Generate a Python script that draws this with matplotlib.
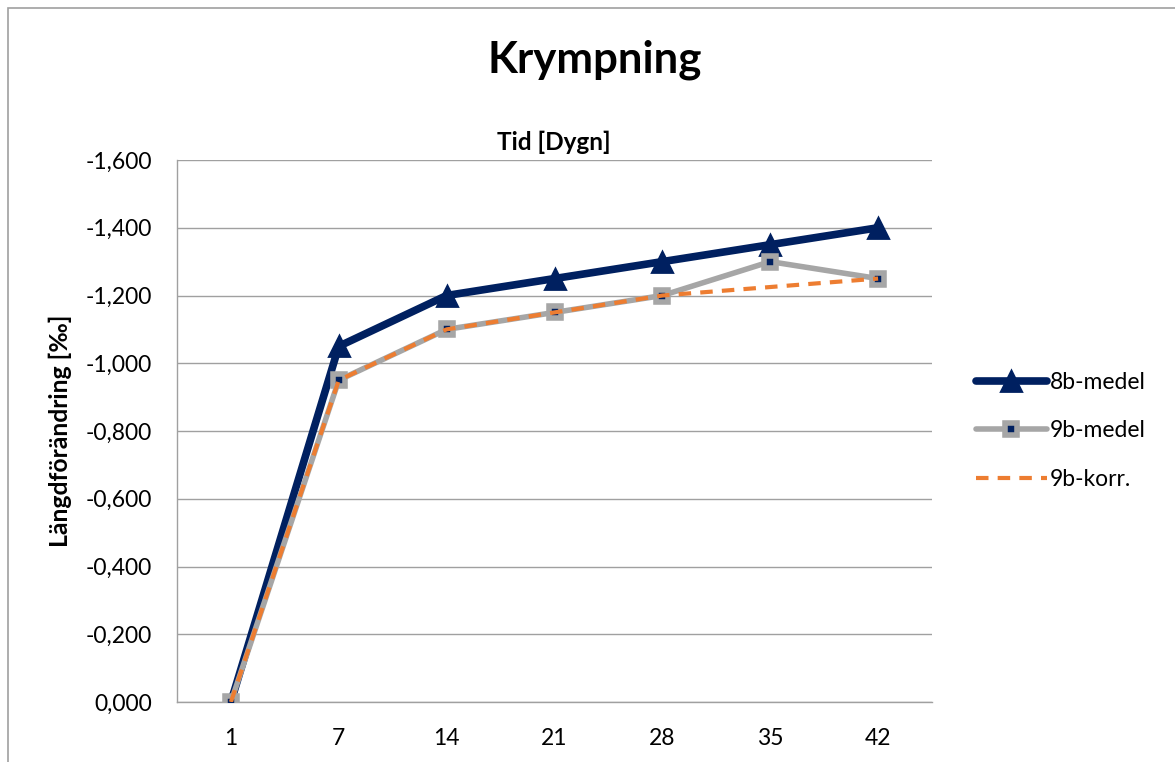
import matplotlib.pyplot as plt
import matplotlib.patches as patches
from matplotlib.ticker import FuncFormatter

plt.rcParams['font.family'] = ['Lato', 'DejaVu Sans']

# Mätdata: längdförändring per dygn
dygn = ['1', '7', '14', '21', '28', '35', '42']
medel_8b = [0.0, -1.05, -1.20, -1.25, -1.30, -1.35, -1.40]
medel_9b = [0.0, -0.95, -1.10, -1.15, -1.20, -1.30, -1.25]
korr_9b = [0.0, -0.95, -1.10, -1.15, -1.20, -1.225, -1.25]
y_ticks = [0.0, -0.2, -0.4, -0.6, -0.8, -1.0, -1.2, -1.4, -1.6]

navy = '#002060'
grey = '#A6A6A6'
orange = '#ED7D31'
axis_grey = '#A0A0A0'

fig = plt.figure(figsize=(11.75, 7.62), dpi=100)
ax = fig.add_axes([177 / 1175, 60 / 762, 755 / 1175, 542 / 762])

x = list(range(len(dygn)))
ax.plot(x, medel_8b, color=navy, lw=5.5, marker='^', ms=14, mfc=navy,
        mec=navy, mew=2, solid_joinstyle='round', solid_capstyle='round',
        label='8b-medel', zorder=3)
ax.plot(x, medel_9b, color=grey, lw=4, marker='s', ms=9, mfc=navy,
        mec=grey, mew=4, solid_joinstyle='round', solid_capstyle='round',
        label='9b-medel', zorder=4)
ax.plot(x, korr_9b, color=orange, lw=3, ls=(0, (3, 2.2)),
        dash_capstyle='butt', label='9b-korr.', zorder=5)

ax.set_xlim(-0.5, len(dygn) - 0.5)
ax.set_xticks(x)
ax.set_xticklabels(dygn)
ax.set_ylim(0, -1.6)
ax.set_yticks(y_ticks)
ax.yaxis.set_major_formatter(FuncFormatter(lambda v, p: f'{v:.3f}'.replace('.', ',')))
ax.tick_params(length=0, labelsize=16.5)
ax.tick_params(axis='y', pad=18)
ax.tick_params(axis='x', pad=19)

ax.grid(axis='y', color=axis_grey, lw=1)
ax.set_axisbelow(True)
for side in ['top', 'right']:
    ax.spines[side].set_visible(False)
for side in ['left', 'bottom']:
    ax.spines[side].set_color(axis_grey)
    ax.spines[side].set_linewidth(1)

ax.set_ylabel('Längdförändring [‰]', fontsize=17.8, fontweight='bold')
ax.yaxis.set_label_coords((72 - 177) / 755, 0.5)
fig.text(554 / 1175, 1 - 142 / 762, 'Tid [Dygn]', ha='center', va='center',
         fontsize=17.5, fontweight='bold')
fig.text(595 / 1175, 1 - 60 / 762, 'Krympning', ha='center', va='center',
         fontsize=31.5, fontweight='bold')

fig.legend(loc='center left', bbox_to_anchor=(955 / 1175, 1 - 431 / 762),
           frameon=False, fontsize=16.5, handlelength=3.1, labelspacing=1.2,
           handletextpad=0.15)

# ram runt diagrammet
fig.add_artist(patches.Rectangle((8 / 1175, -0.1), 1.2, 1.1 - 8 / 762,
                                 transform=fig.transFigure, fill=False,
                                 edgecolor=axis_grey, lw=1.2))

fig.savefig('out.png', dpi=100)
